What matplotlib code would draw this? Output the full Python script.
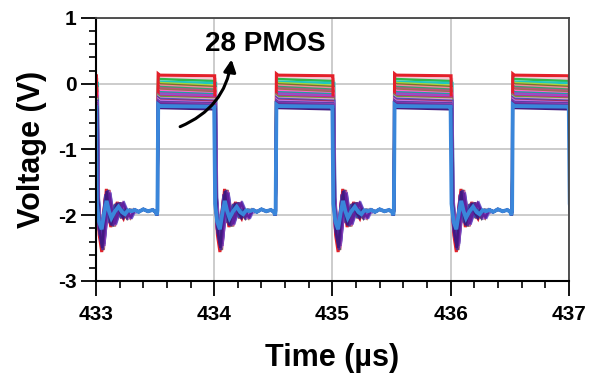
import numpy as np
import matplotlib
matplotlib.use("Agg")
import matplotlib.pyplot as plt
from matplotlib.ticker import MultipleLocator

plt.rcParams['font.family'] = ['Liberation Sans', 'DejaVu Sans']
plt.rcParams['font.weight'] = 'bold'
plt.rcParams['axes.unicode_minus'] = False

# switching times (us)
fall_times = [433.0, 434.0, 435.0, 436.0, 437.0]
rise_offset = 0.52
low_level = -1.93

# ringing after each falling edge: offset (us) and voltage for the reference curve
ring_dt = [0.008, 0.025, 0.048, 0.07, 0.09, 0.11, 0.13, 0.16, 0.19, 0.22, 0.245, 0.27, 0.30]
ring_v = [-1.7, -2.3, -2.56, -2.0, -1.6, -1.95, -2.18, -1.95, -1.8, -1.98, -2.05, -1.92, -1.95]

# slow wobble on the low plateau
plateau_dt = [0.33, 0.36, 0.40, 0.44, 0.48, 0.505, 0.515]
plateau_v = [-1.92, -1.95, -1.91, -1.94, -1.92, -1.95, -2.0]

# one entry per PMOS curve: plateau level at the rising edge and at the falling edge
hi_start = [0.13, 0.10, 0.07, 0.03, 0.01, -0.01, -0.03, -0.05, -0.07, -0.09,
            -0.11, -0.13, -0.15, -0.17, -0.19, -0.20, -0.22, -0.23, -0.25, -0.26,
            -0.28, -0.29, -0.30, -0.32, -0.33, -0.35, -0.37, -0.34]
hi_end = [0.12, 0.07, 0.04, 0.01, -0.03, -0.05, -0.07, -0.09, -0.11, -0.13,
          -0.15, -0.16, -0.18, -0.20, -0.21, -0.23, -0.24, -0.26, -0.27, -0.29,
          -0.30, -0.31, -0.33, -0.34, -0.36, -0.37, -0.39, -0.35]
ring_scale = [1.0, 0.7, 0.85, 0.6, 0.95, 0.75, 0.9, 0.65, 0.95, 0.8,
              0.7, 0.9, 0.6, 0.85, 0.75, 0.95, 0.65, 0.8, 0.7, 0.9,
              0.6, 0.85, 0.75, 0.95, 0.7, 0.8, 0.9, 0.45]
ring_stretch = [0.93, 0.85, 1.12, 0.92, 1.18, 0.8, 1.05, 0.88, 1.15, 0.95,
                0.82, 1.1, 0.9, 1.2, 0.86, 1.02, 0.93, 1.16, 0.84, 1.08,
                0.97, 1.13, 0.89, 1.04, 0.81, 1.19, 0.91, 1.0]
edge_shift = [0.004, 0.012, 0.006, 0.015, 0.002, 0.009, 0.013, 0.003, 0.010, 0.005,
              0.014, 0.001, 0.008, 0.012, 0.002, 0.011, 0.004, 0.015, 0.003, 0.009,
              0.006, 0.013, 0.001, 0.007, 0.010, 0.004, 0.008, 0.0]
colors = ['#e3202a', '#f7c6d6', '#2fb84a', '#1fc7c0', '#a6d63a', '#7e6b2f', '#f08a9a',
          '#3c9e6e', '#c05080', '#9a7050', '#ff66cc', '#20a0a0', '#b040c0', '#8060d0',
          '#d02090', '#6a9a40', '#e0a0c0', '#5050c0', '#a03060', '#c070e0', '#4040a0',
          '#9040b0', '#7030a0', '#5a2a90', '#3050b0', '#6020a0', '#401a80', '#3a86da']
widths = [2.2] + [1.8] * 26 + [2.8]


def build_wave(k):
    t = [432.97]
    v = [hi_end[k]]
    for fall in fall_times:
        f = fall + edge_shift[k]
        t.append(f)
        v.append(hi_end[k])
        for dt, rv in zip(ring_dt, ring_v):
            t.append(f + dt * ring_stretch[k])
            v.append(low_level + ring_scale[k] * (rv - low_level))
        if fall + 1 > 437.5:
            break
        for dt, pv in zip(plateau_dt, plateau_v):
            t.append(fall + dt)
            v.append(pv)
        rise = fall + rise_offset
        t += [rise, rise + 0.006, rise + 0.02, fall + 1 + edge_shift[k] - 0.001]
        v += [low_level, hi_start[k] + 0.02, hi_start[k], hi_end[k]]
    return np.array(t), np.array(v)


fig = plt.figure(figsize=(6, 3.81), dpi=100)
ax = fig.add_axes([0.16, 0.2625, 0.788, 0.6905])

# red halfway through the stack, blue on top
order = list(range(1, 14)) + [0] + list(range(14, 28))
for k in order:
    t, v = build_wave(k)
    ax.plot(t, v, color=colors[k], lw=widths[k], solid_joinstyle='miter')

ax.set_xlim(433, 437)
ax.set_ylim(-3, 1)
ax.xaxis.set_major_locator(MultipleLocator(1))
ax.xaxis.set_minor_locator(MultipleLocator(0.2))
ax.yaxis.set_major_locator(MultipleLocator(1))
ax.yaxis.set_minor_locator(MultipleLocator(0.2))
ax.grid(True, which='major', color='#c8c8c8', lw=1.3)
ax.set_axisbelow(True)

ax.tick_params(which='major', length=11, width=1.3, direction='out', labelsize=15)
ax.tick_params(axis='x', which='major', pad=6)
ax.tick_params(axis='y', which='major', pad=3)
ax.tick_params(which='minor', length=5, width=1.2, direction='out')
for lab in ax.get_xticklabels() + ax.get_yticklabels():
    lab.set_fontweight('bold')

for side in ['left', 'bottom']:
    ax.spines[side].set_linewidth(1.5)
    ax.spines[side].set_color('black')
for side in ['top', 'right']:
    ax.spines[side].set_linewidth(1.3)
    ax.spines[side].set_color('#444444')

ax.set_xlabel('Time (µs)', fontsize=22, fontweight='bold', labelpad=14)
ax.set_ylabel('Voltage (V)', fontsize=22, fontweight='bold', labelpad=8)

ax.annotate('', xy=(434.15, 0.41), xytext=(433.69, -0.67),
            arrowprops=dict(arrowstyle='-|>', color='black', lw=2.2,
                            mutation_scale=18, connectionstyle='arc3,rad=0.3'))
ax.text(434.43, 0.6, '28 PMOS', fontsize=20, fontweight='bold', ha='center', va='center')

fig.savefig('out.png', dpi=100)
